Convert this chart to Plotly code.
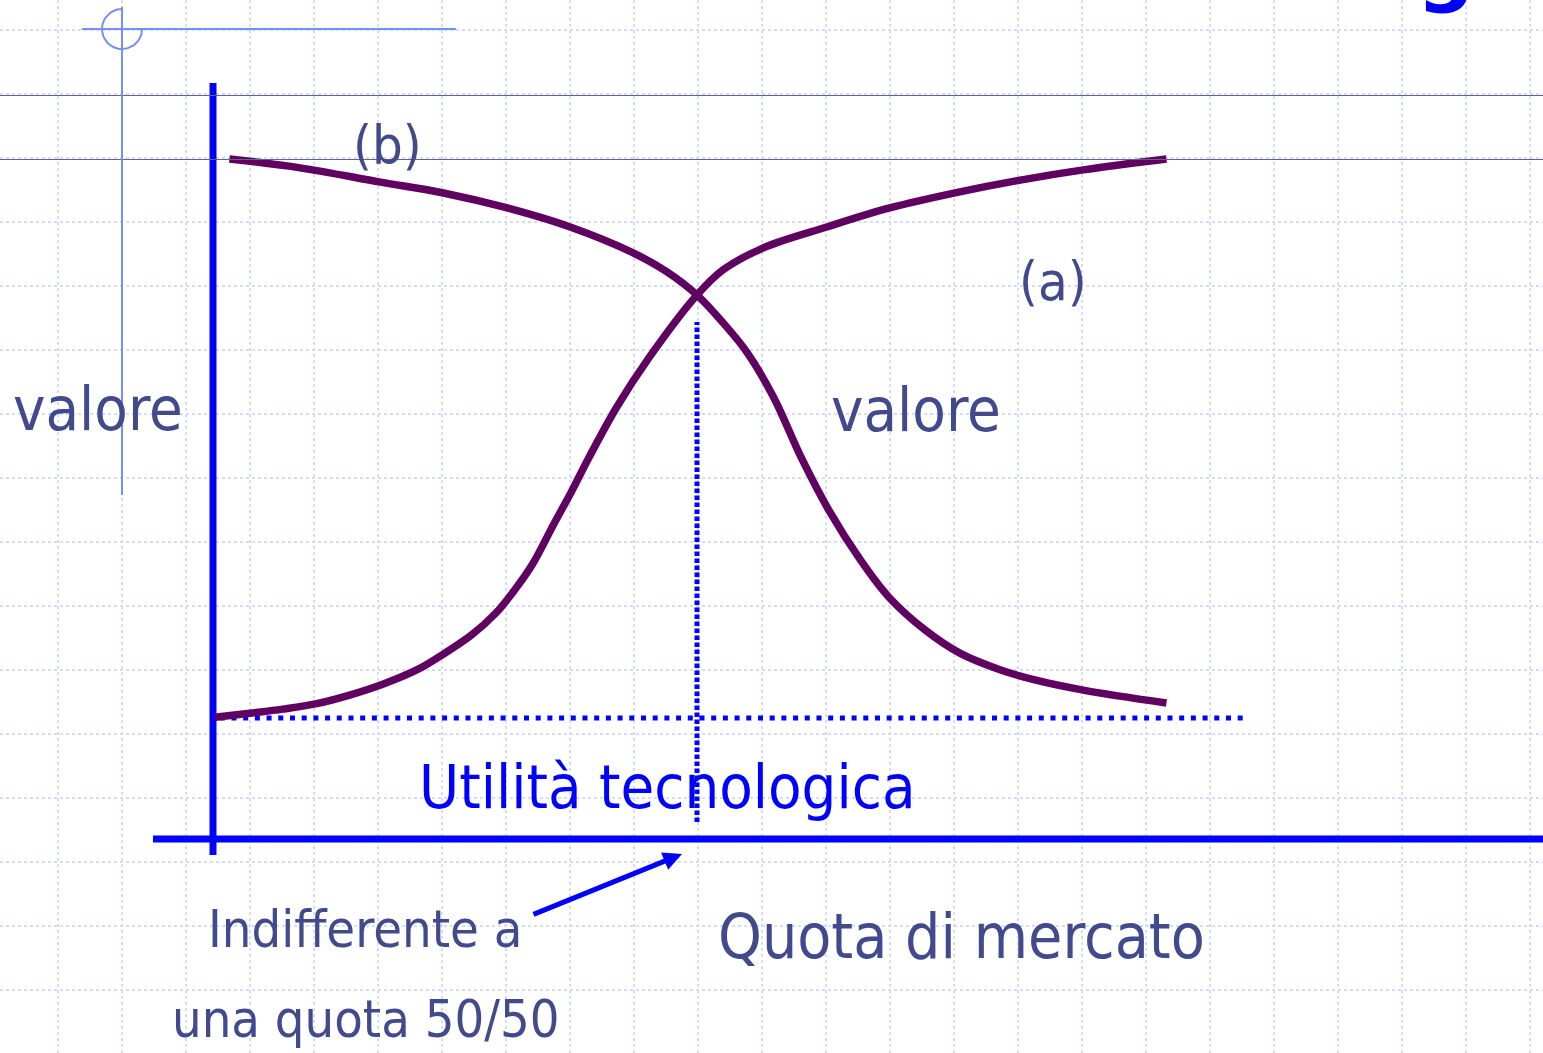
import numpy as np
import plotly.graph_objects as go

# Curve data: quota di mercato (%) vs valore (arbitrary scale, 100 = top of the curves)
quota_a = [0.2, 3.8, 7.2, 10.7, 14.2, 17.6, 21.1, 23.8, 26.7, 29.2, 31.1, 33.0, 35.2,
           37.0, 38.8, 41.7, 45.1, 50.0, 52.7, 56.8, 63.4, 69.9, 76.9, 83.4, 89.9, 98.5]
valore_a = [17.9, 18.5, 19.1, 19.9, 21.2, 22.8, 24.9, 27.2, 30.0, 33.2, 36.5, 40.4, 46.3,
            51.0, 56.0, 63.5, 70.9, 80.0, 83.7, 86.9, 90.0, 92.8, 95.1, 96.9, 98.4, 100.0]
quota_b = [1.7, 9.0, 17.3, 23.8, 30.4, 36.9, 43.4, 46.9, 50.0, 52.7, 55.2, 57.9, 60.8,
           63.6, 66.9, 69.8, 73.6, 77.2, 81.3, 84.9, 89.9, 98.5]
valore_b = [100.0, 98.7, 96.6, 95.0, 92.8, 90.0, 86.2, 83.4, 80.0, 75.9, 71.5, 65.0, 56.0,
            48.4, 41.0, 35.6, 30.7, 27.3, 24.9, 23.4, 21.9, 20.0]
utilita_tecnologica = 17.8   # value level of the dotted "Utilità tecnologica" line
quota_indifferenza = 50      # 50/50 share

W, H = 1543, 1053
BLUE = "#0000ff"
PURPLE = "#600060"
TEXT = "#404a8c"
GRID = "#d3ddf6"
RULE = "#5f6482"
ORNAMENT = "#7490f2"
FONT = "DejaVu Sans Condensed, DejaVu Sans, sans-serif"

# data axes placed on the page: quota 0 -> x=213px, 50 -> 697px; valore 0 -> y=839px
px_per_quota = (697 - 213) / 50
px_per_valore = 6.8
x2_range = [-213 / px_per_quota, (W - 213) / px_per_quota]
y2_range = [(839 - H) / px_per_valore, 839 / px_per_valore]


def q_at(px):
    return (px - 213) / px_per_quota


def v_at(py):
    return (839 - py) / px_per_valore


fig = go.Figure()

# slide ornament (top-left) in page pixels
t = np.linspace(0, 1.5 * np.pi, 60)
fig.add_trace(go.Scatter(
    x=122 + 20 * np.cos(t), y=29 + 20 * np.sin(t), mode="lines",
    line=dict(color=ORNAMENT, width=2), hoverinfo="skip",
))

# chart axes and guides
guides = [
    ([0, 0], [v_at(855), v_at(83)], dict(color=BLUE, width=7)),
    ([q_at(153), x2_range[1]], [0, 0], dict(color=BLUE, width=7)),
    ([0.7, q_at(1248)], [utilita_tecnologica] * 2, dict(color=BLUE, width=5, dash="5px,6.7px")),
    ([quota_indifferenza] * 2, [v_at(822), v_at(322)], dict(color=BLUE, width=5, dash="4.5px,2.5px")),
]
for gx, gy, gline in guides:
    fig.add_trace(go.Scatter(x=gx, y=gy, xaxis="x2", yaxis="y2", mode="lines",
                             line=gline, hoverinfo="skip"))

for q, v in [(quota_a, valore_a), (quota_b, valore_b)]:
    fig.add_trace(go.Scatter(
        x=q, y=v, xaxis="x2", yaxis="y2", mode="lines",
        line=dict(color=PURPLE, width=7.5, shape="spline", smoothing=1.0),
        hoverinfo="skip",
    ))

shapes = [
    # template rules
    dict(type="line", xref="paper", yref="y", x0=0, x1=1, y0=95.5, y1=95.5,
         line=dict(color=RULE, width=1.2)),
    dict(type="line", xref="paper", yref="y", x0=0, x1=1, y0=159.5, y1=159.5,
         line=dict(color=RULE, width=1.2)),
    dict(type="line", xref="x", yref="y", x0=82, x1=456, y0=29, y1=29,
         line=dict(color=ORNAMENT, width=2)),
    dict(type="line", xref="x", yref="y", x0=122, x1=122, y0=7, y1=495,
         line=dict(color=ORNAMENT, width=2)),
]

labels = [
    ("valore", 98, 408, 61, TEXT),
    ("valore", 916, 409, 61, TEXT),
    ("(b)", 387, 145, 54, TEXT),
    ("(a)", 1053, 281, 54, TEXT),
    ("Utilità tecnologica", 667, 786, 61, BLUE),
    ("Quota di mercato", 961, 936, 62, TEXT),
    ("Indifferente a", 365, 929, 52, TEXT),
    ("una quota 50/50", 365, 1019, 52, TEXT),
]
annotations = [
    dict(text=txt, x=x, y=y, xref="x", yref="y", showarrow=False,
         xanchor="center", yanchor="middle", font=dict(family=FONT, size=size, color=col))
    for txt, x, y, size, col in labels
]
annotations.append(dict(
    text="", x=682, y=854, ax=532, ay=915, xref="x", yref="y", axref="x", ayref="y",
    showarrow=True, arrowhead=2, arrowsize=0.75, arrowwidth=5, arrowcolor=BLUE,
))
# tail of the cut-off slide title
annotations.append(dict(
    text="<b>g</b>", x=1445 / W, y=1 + 31.7 / H, xref="paper", yref="paper",
    showarrow=False, xanchor="center", yanchor="middle",
    font=dict(family="DejaVu Sans, sans-serif", size=80, color=BLUE),
))

grid = dict(showgrid=True, gridcolor=GRID, gridwidth=2, griddash="dot",
            zeroline=False, showticklabels=False, ticks="", fixedrange=True)
fig.update_layout(
    width=W, height=H, margin=dict(l=0, r=0, t=0, b=0),
    paper_bgcolor="white", plot_bgcolor="white", showlegend=False,
    xaxis=dict(range=[0, W], tick0=58, dtick=64, **grid),
    yaxis=dict(range=[H, 0], tick0=30, dtick=64, **grid),
    xaxis2=dict(range=x2_range, overlaying="x", visible=False, fixedrange=True),
    yaxis2=dict(range=y2_range, overlaying="y", visible=False, fixedrange=True),
    shapes=shapes, annotations=annotations,
)

fig.write_html(
    "out.html",
    config={"displayModeBar": False},
    post_script="document.body.style.margin='0';document.body.style.overflow='hidden';",
)
